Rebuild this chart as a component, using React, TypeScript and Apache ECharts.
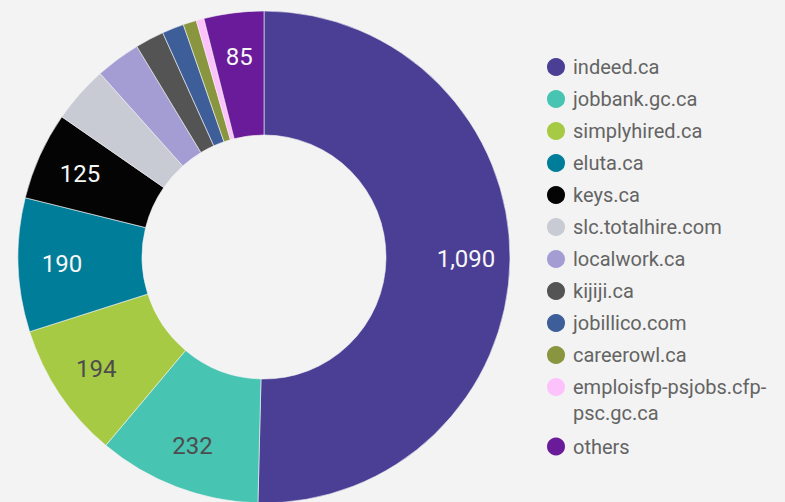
import React, { useEffect, useRef } from "react";
import * as echarts from "echarts";

const categories = [
  "indeed.ca",
  "jobbank.gc.ca",
  "simplyhired.ca",
  "eluta.ca",
  "keys.ca",
  "slc.totalhire.com",
  "localwork.ca",
  "kijiji.ca",
  "jobillico.com",
  "careerowl.ca",
  "emploisfp-psjobs.cfp-psc.gc.ca",
  "others",
];
const values = [1090, 232, 194, 190, 125, 81, 64, 41, 31, 19, 11, 85];
const colors = [
  "#4b3f95",
  "#48c4b2",
  "#a6ca43",
  "#007e99",
  "#040404",
  "#c8cbd3",
  "#a39dd4",
  "#545454",
  "#3d5e99",
  "#8a963f",
  "#fdc1fc",
  "#6a1b9a",
];
const labelThreshold = 85;
const darkLabelCategories = ["jobbank.gc.ca", "simplyhired.ca"];
const wrappedLegendName = "emploisfp-psjobs.cfp-psc.gc.ca";
const wrappedLegendText = "emploisfp-psjobs.cfp-\npsc.gc.ca\n{s| }";

function fmt(v: number): string {
  return String(v).replace(/\B(?=(\d{3})+(?!\d))/g, ",");
}

export default function App() {
  const ref = useRef<HTMLDivElement>(null);
  useEffect(() => {
    const chart = echarts.init(ref.current!, null, { renderer: "svg" });
    const data = categories.map((name, i) => ({
      name,
      value: values[i],
      itemStyle: { color: colors[i] },
    }));
    const labelData = categories.map((name, i) => ({
      name,
      value: values[i],
      label: {
        show: values[i] >= labelThreshold,
        color: darkLabelCategories.includes(name) ? "#4d4d4d" : "#f7f7f7",
      },
    }));
    chart.setOption({
      animation: false,
      backgroundColor: "#f3f3f3",
      textStyle: { fontFamily: "Roboto" },
      legend: {
        orient: "vertical",
        left: 545,
        top: 54,
        padding: 0,
        itemWidth: 24,
        itemHeight: 20,
        itemGap: 6,
        icon: "circle",
        selectedMode: false,
        textStyle: {
          fontFamily: "Roboto",
          fontSize: 20,
          lineHeight: 26,
          color: "#646464",
          rich: { s: { fontSize: 1, lineHeight: 2 } },
        },
        formatter: (name: string) =>
          name === wrappedLegendName ? wrappedLegendText : name,
        data: categories.map((name) =>
          name === wrappedLegendName
            ? { name, textStyle: { padding: [0, 0, -28, 0] } }
            : { name }
        ),
      },
      series: [
        {
          type: "pie",
          name: "sources",
          center: [264, 257],
          radius: [122, 246],
          startAngle: 90,
          clockwise: true,
          label: { show: false },
          labelLine: { show: false },
          itemStyle: { borderColor: "#f3f3f3", borderWidth: 0.6 },
          emphasis: { disabled: true },
          data,
        },
        {
          type: "pie",
          name: "labels",
          center: [264, 257],
          radius: [152, 246],
          startAngle: 90,
          clockwise: true,
          silent: true,
          avoidLabelOverlap: false,
          itemStyle: { color: "transparent" },
          label: {
            position: "inside",
            fontFamily: "Roboto",
            fontSize: 24,
            formatter: (p: any) => fmt(p.value),
          },
          labelLine: { show: false },
          emphasis: { disabled: true },
          data: labelData,
        },
      ],
    });
    return () => chart.dispose();
  }, []);
  return (
    <div
      ref={ref}
      style={{ position: "absolute", left: 0, top: 0, width: 785, height: 502 }}
    />
  );
}
